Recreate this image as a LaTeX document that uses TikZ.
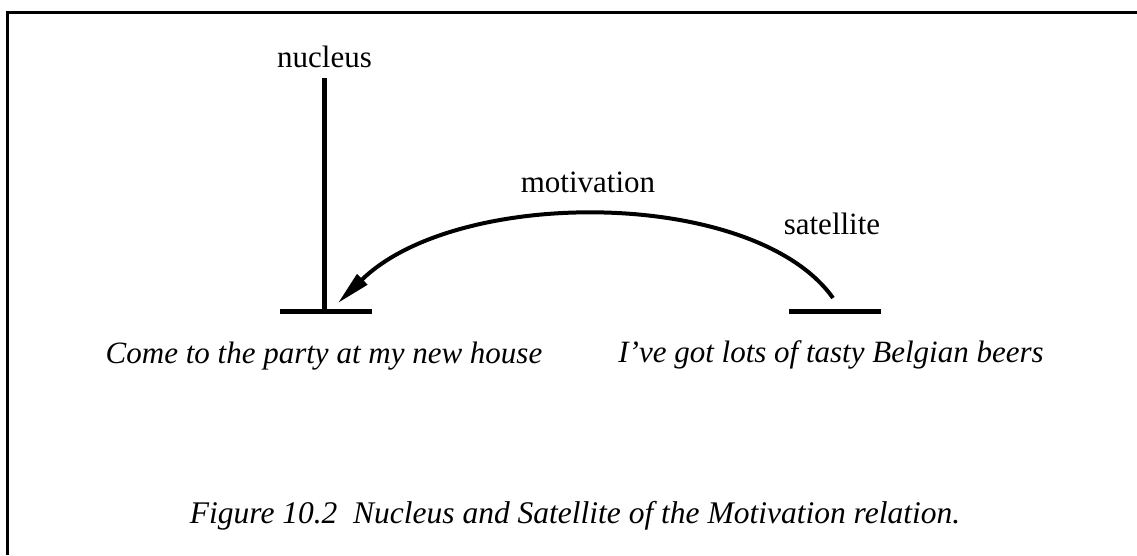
\documentclass[tikz,border=0pt]{standalone}
\usepackage{fontspec}
\setmainfont{Liberation Serif}
\usetikzlibrary{arrows.meta}
\tikzset{
  lbl/.style={font=\fontsize{31}{36}\selectfont, anchor=base, inner sep=0pt},
  example/.style={font=\fontsize{31}{36}\selectfont\itshape, anchor=base, inner sep=0pt},
  capt/.style={font=\fontsize{31.5}{36}\selectfont\itshape, anchor=base, inner sep=0pt},
  span/.style={line width=5pt},
  rel/.style={line width=4pt, -{Triangle[length=34pt,width=14pt]}},
  frame/.style={line width=3pt}
}
\begin{document}
\begin{tikzpicture}[x=1pt,y=-1pt]
\useasboundingbox (0,0) rectangle (1137,555);
\draw[frame] (7.5,555) -- (7.5,12) -- (1137,12);
% nucleus
\coordinate (ntop) at (324,78);
\coordinate (nbase) at (324,311);
\coordinate (nl) at (280,311);
\coordinate (nr) at (372,311);
\coordinate (tip) at (338,303);
\draw[span] (ntop) -- (nbase);
\draw[span] (nl) -- (nr);
% satellite
\coordinate (sl) at (789,311);
\coordinate (sr) at (881,311);
\coordinate (sstart) at (833,298);
\draw[span] (sl) -- (sr);
\draw[rel] (sstart) .. controls (755,188) and (458,186) .. (tip);
% labels
\node[lbl] (nuc) at (324.5,67) {nucleus};
\node[lbl] (sat) at (832,234) {satellite};
\node[lbl] (mot) at (588,192) {motivation};
\node[example] (ex1) at (324,363) {Come to the party at my new house};
\node[example] (ex2) at (831,362) {I’ve got lots of tasty Belgian beers};
\node[capt] (cap) at (575,523) {Figure 10.2\ \ Nucleus and Satellite of the Motivation relation.};
\end{tikzpicture}
\end{document}
